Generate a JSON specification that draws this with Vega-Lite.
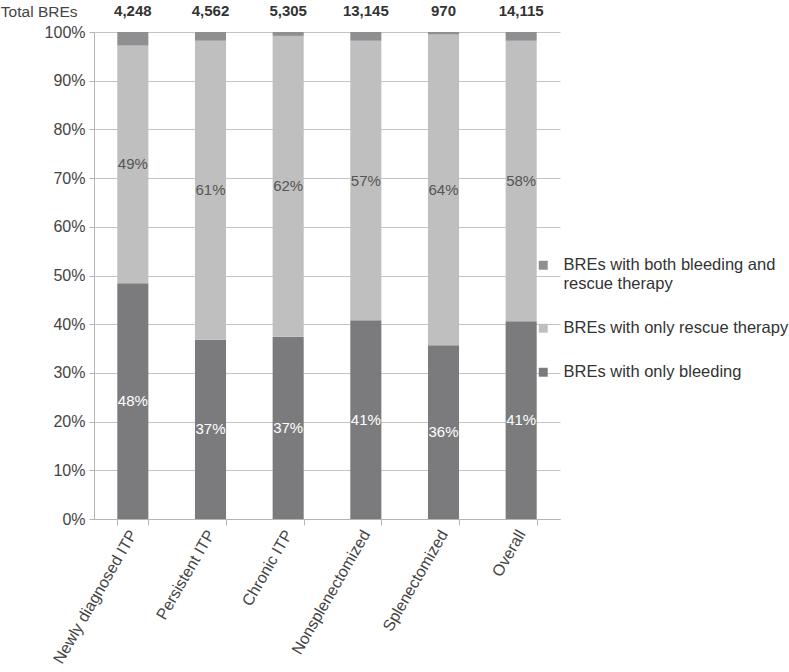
{
  "$schema": "https://vega.github.io/schema/vega-lite/v6.json",
  "width": 466,
  "height": 487,
  "padding": {"left": 0, "top": 4, "right": 5, "bottom": 0},
  "background": "white",
  "config": {
    "font": "Liberation Sans",
    "view": {"stroke": null},
    "axis": {"labelFont": "Liberation Sans", "titleFont": "Liberation Sans"}
  },
  "datasets": {
    "shares": [
      {"group": "Newly diagnosed ITP", "type": "BREs with only bleeding", "pct": 48.4},
      {"group": "Newly diagnosed ITP", "type": "BREs with only rescue therapy", "pct": 48.8},
      {"group": "Newly diagnosed ITP", "type": "BREs with both bleeding and rescue therapy", "pct": 2.8},
      {"group": "Persistent ITP", "type": "BREs with only bleeding", "pct": 36.8},
      {"group": "Persistent ITP", "type": "BREs with only rescue therapy", "pct": 61.4},
      {"group": "Persistent ITP", "type": "BREs with both bleeding and rescue therapy", "pct": 1.8},
      {"group": "Chronic ITP", "type": "BREs with only bleeding", "pct": 37.4},
      {"group": "Chronic ITP", "type": "BREs with only rescue therapy", "pct": 61.8},
      {"group": "Chronic ITP", "type": "BREs with both bleeding and rescue therapy", "pct": 0.8},
      {"group": "Nonsplenectomized", "type": "BREs with only bleeding", "pct": 40.8},
      {"group": "Nonsplenectomized", "type": "BREs with only rescue therapy", "pct": 57.4},
      {"group": "Nonsplenectomized", "type": "BREs with both bleeding and rescue therapy", "pct": 1.8},
      {"group": "Splenectomized", "type": "BREs with only bleeding", "pct": 35.7},
      {"group": "Splenectomized", "type": "BREs with only rescue therapy", "pct": 63.8},
      {"group": "Splenectomized", "type": "BREs with both bleeding and rescue therapy", "pct": 0.5},
      {"group": "Overall", "type": "BREs with only bleeding", "pct": 40.6},
      {"group": "Overall", "type": "BREs with only rescue therapy", "pct": 57.6},
      {"group": "Overall", "type": "BREs with both bleeding and rescue therapy", "pct": 1.8}
    ],
    "totals": [
      {"group": "Newly diagnosed ITP", "total": "4,248"},
      {"group": "Persistent ITP", "total": "4,562"},
      {"group": "Chronic ITP", "total": "5,305"},
      {"group": "Nonsplenectomized", "total": "13,145"},
      {"group": "Splenectomized", "total": "970"},
      {"group": "Overall", "total": "14,115"}
    ]
  },
  "encoding": {
    "x": {
      "field": "group",
      "type": "nominal",
      "sort": null,
      "title": null,
      "scale": {"paddingInner": 0.6, "paddingOuter": 0.3},
      "axis": {
        "labelAngle": -60,
        "labelFontSize": 16,
        "labelColor": "#444",
        "labelPadding": 6,
        "tickBand": "extent",
        "tickSize": 6,
        "tickColor": "#b5b5b5",
        "domainColor": "#b5b5b5"
      }
    }
  },
  "layer": [
    {
      "data": {"name": "shares"},
      "transform": [
        {"calculate": "indexof(['BREs with only bleeding', 'BREs with only rescue therapy', 'BREs with both bleeding and rescue therapy'], datum.type)", "as": "ord"},
        {"stack": "pct", "groupby": ["group"], "sort": [{"field": "ord"}], "as": ["lo", "hi"]},
        {"calculate": "(datum.lo + datum.hi) / 2", "as": "mid"},
        {"calculate": "format(datum.pct, '.0f') + '%'", "as": "label"}
      ],
      "layer": [
        {
          "mark": {"type": "bar"},
          "encoding": {
            "y": {
              "field": "lo",
              "type": "quantitative",
              "scale": {"domain": [0, 100], "nice": false},
              "title": "Total BREs",
              "axis": {
                "values": [0, 10, 20, 30, 40, 50, 60, 70, 80, 90, 100],
                "labelExpr": "datum.value + '%'",
                "labelFontSize": 16,
                "labelColor": "#444",
                "labelPadding": 4,
                "tickSize": 5,
                "tickColor": "#b5b5b5",
                "domainColor": "#b5b5b5",
                "grid": true,
                "gridColor": "#c4c4c4",
                "titleAngle": 0,
                "titleAlign": "right",
                "titleBaseline": "middle",
                "titleX": -17,
                "titleY": -21,
                "titleFontSize": 15.5,
                "titleFontWeight": "normal",
                "titleColor": "#444"
              }
            },
            "y2": {"field": "hi"},
            "color": {
              "field": "type",
              "type": "nominal",
              "title": null,
              "scale": {
                "domain": ["BREs with both bleeding and rescue therapy", "BREs with only rescue therapy", "BREs with only bleeding"],
                "range": ["#8f8f91", "#bfbfbf", "#7b7b7d"]
              },
              "legend": {
                "orient": "none",
                "legendX": 441,
                "legendY": 225,
                "symbolType": "square",
                "symbolSize": 80,
                "symbolStrokeWidth": 0,
                "labelFontSize": 16.5,
                "labelColor": "#333",
                "labelLimit": 300,
                "labelOffset": 12,
                "rowPadding": 27,
                "labelExpr": "datum.label == 'BREs with both bleeding and rescue therapy' ? ['BREs with both bleeding and', 'rescue therapy'] : datum.label"
              }
            }
          }
        },
        {
          "transform": [{"filter": "datum.ord < 2"}],
          "mark": {"type": "text", "fontSize": 15, "baseline": "middle"},
          "encoding": {
            "y": {"field": "mid", "type": "quantitative"},
            "text": {"field": "label"},
            "color": {
              "condition": {"test": "datum.ord == 0", "value": "white"},
              "value": "#555"
            }
          }
        }
      ]
    },
    {
      "data": {"name": "totals"},
      "mark": {"type": "text", "fontSize": 15, "fontWeight": "bold", "color": "#333", "dy": -21, "baseline": "middle"},
      "encoding": {
        "y": {"datum": 100},
        "text": {"field": "total"}
      }
    }
  ]
}
